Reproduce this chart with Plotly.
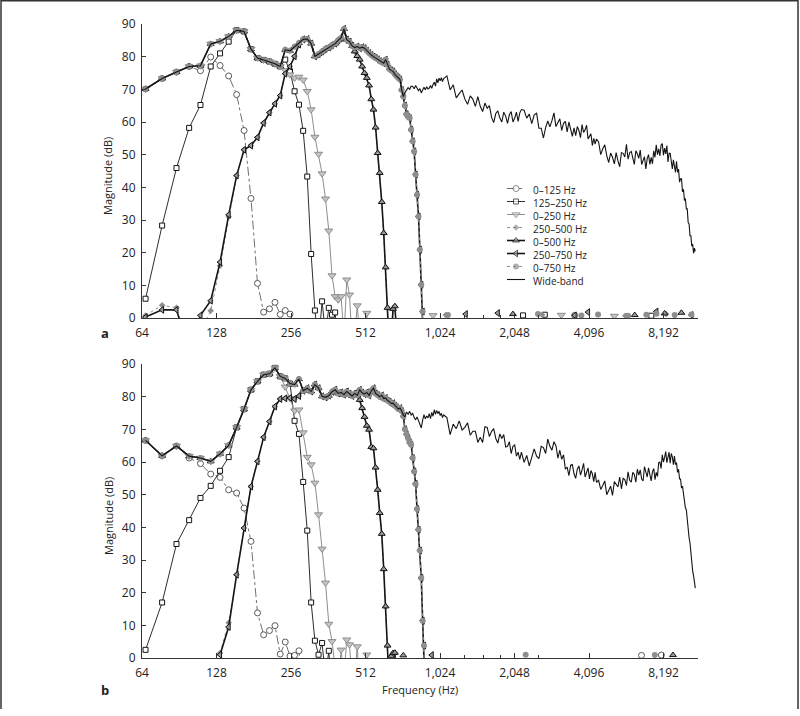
import math
import plotly.graph_objects as go

BIN_HZ = 11.025  # FFT bin spacing of the spectra

bins_lo = list(range(6, 97))
bins_hi = list(range(99, 199, 3)) + list(range(203, 399, 5)) + list(range(406, 999, 8))

# ---- wide-band spectrum, panel a ----
wide_a_lo = [70.1, 73.3, 75.3, 77.0, 77.2, 83.9, 84.7, 86.2, 88.1, 87.7,
             82.3, 79.6, 79.0, 78.5, 77.8, 77.0, 82.1, 81.8, 83.0, 84.2,
             85.3, 85.4, 84.0, 80.1, 80.8, 81.6, 82.4, 82.8, 83.6, 84.0,
             85.0, 85.8, 88.5, 85.2, 84.6, 83.3, 82.8, 83.1, 82.6, 82.9,
             82.6, 81.8, 81.1, 80.5, 80.0, 79.6, 79.2, 78.6, 78.3, 78.0,
             79.1, 77.5, 76.2, 75.8, 75.5, 74.6, 74.0, 73.5, 73.0, 69.8,
             67.8, 69.0, 69.9, 70.5, 70.0, 71.0, 70.9, 70.2, 71.2, 70.4,
             69.6, 70.2, 68.9, 69.8, 70.6, 69.9, 70.8, 70.1, 70.4, 71.2,
             70.3, 71.5, 72.2, 71.0, 73.2, 72.0, 73.4, 72.6, 73.6, 72.4,
             73.3]
wide_a_hi = [74.1, 69.8, 71.4, 67.4, 68.7, 69.8, 67.0, 65.4, 68.0, 67.0,
             64.8, 67.8, 64.8, 63.2, 65.8, 64.2, 65.0, 61.4, 59.8, 62.6,
             63.4, 61.2, 60.0, 63.0, 61.8, 59.6, 62.2, 63.2, 60.0, 61.2,
             63.0, 60.2, 62.8, 63.8,
             63.6, 61.2, 62.4, 59.5, 62.2, 62.7, 58.1, 58.1, 55.1, 58.3,
             60.3, 58.5, 60.4, 62.8, 58.6, 59.6, 61.0, 57.4, 59.6, 60.2,
             57.0, 60.0, 57.4, 55.6, 58.2, 55.8, 58.6, 57.4, 55.2, 59.2,
             56.8, 57.6, 59.0, 54.8, 55.6, 56.4, 52.8, 55.0, 53.2, 54.8,
             53.9, 50.0, 51.8, 53.0, 49.7, 47.6, 50.5, 49.2, 47.2, 50.6,
             48.1, 46.3, 50.6, 50.4, 49.3, 53.2, 48.6, 50.6, 51.0, 48.5,
             47.0, 51.2, 50.3, 48.9, 51.4, 47.0, 48.2, 49.4, 45.6, 48.8,
             50.0, 47.0, 49.2, 47.2, 51.2, 49.2, 53.0, 50.0, 51.8, 49.6,
             53.0, 53.4, 49.8, 52.0, 50.2, 52.8, 47.8, 50.4, 50.4, 47.8,
             45.6, 48.4, 46.6, 44.6, 48.0, 44.6, 45.6, 41.6, 42.6, 42.6,
             38.6, 39.4, 36.0, 36.6, 33.4, 33.4, 29.2, 28.8, 25.2, 25.2,
             22.0, 22.6, 19.8, 21.4, 20.4]

# ---- wide-band spectrum, panel b ----
wide_b_lo = [66.6, 61.9, 64.9, 61.8, 61.2, 60.2, 62.5, 65.1, 70.6, 76.2,
             82.1, 84.7, 86.7, 87.0, 88.8, 86.2, 85.6, 84.0, 83.7, 85.4,
             81.8, 82.6, 81.6, 83.7, 82.6, 80.1, 79.8, 80.3, 81.5, 82.1,
             81.0, 81.3, 80.6, 81.6, 80.9, 80.2, 81.0, 80.4, 82.1, 81.2,
             80.8, 81.3, 80.4, 81.8, 82.6, 81.0, 80.5, 80.0, 80.4, 79.4,
             79.6, 78.8, 78.5, 77.9, 78.0, 77.2, 76.8, 76.2, 76.5, 75.6,
             74.3, 73.9, 75.3, 74.6, 75.5, 74.4, 74.9, 73.6, 72.9, 73.8,
             72.5, 71.6, 70.4, 72.8, 74.5, 73.2, 74.1, 73.5, 74.8, 73.3,
             75.2, 74.0, 76.0, 74.6, 75.8, 74.8, 75.5, 74.2, 74.9, 73.6,
             74.4]
wide_b_hi = [73.6, 68.4, 71.6, 70.2, 72.6, 69.8, 70.6, 72.0, 68.2, 69.4,
             69.4, 66.0, 67.6, 66.0, 70.8, 70.6, 67.8, 69.4, 70.2, 67.2,
             65.8, 68.6, 67.2, 68.4, 64.6, 64.8, 66.2, 62.6, 64.8, 65.2,
             61.8, 63.0, 60.8, 63.0,
             59.9, 62.0, 58.8, 61.4, 64.0, 61.8, 61.0, 64.8, 64.4, 62.6,
             67.0, 64.8, 63.6, 66.2, 65.0, 61.2, 63.6, 60.8, 62.2, 57.8,
             58.4, 55.8, 59.0, 59.2, 56.4, 55.0, 57.8, 58.8, 56.0, 57.6,
             59.6, 55.4, 56.8, 58.2, 54.8, 57.4, 56.4, 54.0, 56.8, 53.8,
             54.4, 51.6, 52.8, 54.2, 50.0, 51.2, 52.6, 49.8, 54.0, 53.2,
             52.4, 55.4, 51.8, 55.0, 54.6, 52.8, 57.0, 54.4, 53.8, 56.8,
             56.2, 53.8, 57.8, 56.0, 57.6, 54.8, 54.2, 58.6, 57.0, 55.4,
             58.2, 55.8, 54.2, 57.0, 58.0, 54.6, 56.8, 55.6, 59.8, 60.0,
             58.0, 62.2, 60.0, 61.4, 63.2, 59.8, 61.4, 63.0, 59.6, 62.6,
             61.6, 59.2, 61.8, 59.2, 59.8, 56.8, 57.8, 54.8, 54.8, 52.0,
             52.6, 50.0, 49.4, 46.0, 45.4, 41.8, 40.8, 36.8, 35.2, 31.4,
             30.0, 26.6, 25.2, 22.4, 21.4]

# ---- filtered spectra, panel a ----
# left / right: (bins, dB) outside the pass band; pass_: bin range that follows the wide-band
a_lp750_right = (list(range(66, 81)), [67.8, 65.0, 62.4, 61.6, 61.2, 57.6, 54.1, 51.0, 43.9,
                                       37.7, 31.1, 20.9, 10.2, 2.0, -12])
a_lp500_right = (list(range(42, 64)), [81.6, 80.2, 79.1, 77.0, 75.0, 73.5, 71.2, 67.0, 63.8,
                                       58.3, 50.5, 44.4, 35.5, 26.0, 15.5, 3.1, -10, -6, 2.8,
                                       3.6, -8, -12])
panel_a = {
    "0–125 Hz": dict(pass_=(6, 9),
                     right=(list(range(10, 25)), [75.7, 79.9, 77.3, 74.1, 68.4, 57.4, 36.6, 10.6,
                                                  1.8, 2.8, 4.8, 1.1, 2.3, 1.2, -12]),
                     spots=([325], [0.8])),
    "125–250 Hz": dict(left=(list(range(6, 14)), [5.9, 28.3, 45.9, 58.2, 65.2, 77.0, 81.0, 84.6]),
                       pass_=(14, 21),
                       right=(list(range(22, 37)), [79.1, 75.5, 69.4, 65.3, 57.3, 43.3, 19.6, 2.3,
                                                    -8, 5.1, -5, 3.1, 1.0, 1.7, -12]),
                       spots=([201, 246, 663], [0.8, 1.0, 0.7])),
    "0–250 Hz": dict(pass_=(6, 21),
                     right=(list(range(22, 49)), [75.8, 74.5, 73.5, 73.8, 72.9, 69.4, 63.8, 55.4,
                                                  50.2, 44.2, 36.5, 26.7, 13.0, 6.6, 5.6, 6.6, -6,
                                                  11.7, 7.1, -8, -5, 3.8, -6, -10, -4, 1.5, -12]),
                     spots=([87, 287, 470], [0.8, 0.9, 0.6])),
    "250–500 Hz": dict(left=(list(range(6, 26)), [0.8, 3.9, 3.1, -10, -4, 2.2, 16.0, 31.0, 43.6,
                                                  51.5, 52.8, 55.3, 59.7, 62.9, 65.6, 68.1, 74.8,
                                                  77.0, 80.1, 83.7]),
                       pass_=(26, 41), right=a_lp500_right,
                       spots=([98, 240, 520, 760], [0.9, 1.0, 0.7, 1.2])),
    "0–500 Hz": dict(pass_=(6, 41), right=a_lp500_right,
                     spots=([183, 568, 750, 877], [1.2, 0.9, 1.4, 1.6])),
    "250–750 Hz": dict(left=(list(range(6, 26)), [0.3, 2.5, 2.5, -10, 0.8, 5.3, 17.1, 31.6, 43.6,
                                                  51.5, 52.8, 55.3, 59.7, 62.9, 65.6, 68.1, 74.8,
                                                  77.0, 80.1, 83.7]),
                       pass_=(26, 65), right=a_lp750_right,
                       spots=([118, 159, 325, 368, 695, 963], [1.2, 1.5, 0.8, 1.8, 2.0, 0.9])),
    "0–750 Hz": dict(pass_=(6, 65), right=a_lp750_right,
                     spots=([100, 231, 346, 404, 534, 633, 695, 824, 963],
                            [0.9, 1.2, 0.8, 1.1, 0.7, 1.0, 1.3, 0.9, 1.1])),
}

# ---- filtered spectra, panel b ----
b_lp750_right = (list(range(66, 82)), [74.0, 70.0, 68.5, 67.3, 66.0, 65.3, 61.2, 57.1, 53.3,
                                       45.6, 39.3, 32.9, 24.5, 11.4, 3.8, -12])
b_lp500_right = (list(range(44, 63)), [79.0, 76.5, 73.8, 71.1, 69.9, 64.6, 64.2, 58.3, 51.5,
                                       44.4, 38.0, 27.2, 15.8, 3.8, -10, 0.5, 1.5, 1.6, -12])
b_hp250_left = [1.0, 9.5, 25.5, 39.8, 52.5, 60.2, 67.6, 72.4, 77.0, 79.3, 79.5, 79.6, 79.3, 80.2]
panel_b = {
    "0–125 Hz": dict(pass_=(6, 8),
                     right=(list(range(9, 27)), [61.2, 59.5, 56.3, 55.3, 51.5, 50.5, 45.9, 35.7,
                                                 13.8, 7.1, 8.4, 9.9, 1.2, 4.9, 0.6, 0.8, 2.2, -12]),
                     spots=([605, 728], [0.8, 0.9])),
    "125–250 Hz": dict(left=(list(range(6, 14)), [2.5, 17.0, 34.9, 42.2, 49.0, 52.7, 57.3, 61.5]),
                       pass_=(14, 23),
                       right=(list(range(24, 35)), [72.6, 68.6, 53.9, 39.0, 17.0, 5.3, 1.0, 4.6,
                                                    -6, 2.2, -12])),
    "0–250 Hz": dict(pass_=(6, 21),
                     right=(list(range(22, 49)), [83.0, 79.5, 75.7, 76.0, 69.0, 61.5, 59.2, 53.6,
                                                  43.9, 33.4, 23.0, 10.4, 5.1, -3, -8, 2.5, -6,
                                                  5.6, 4.1, -8, -6, 3.5, -10, -8, -5, 1.0, -12])),
    "250–500 Hz": dict(left=(list(range(12, 26)), [1.5, 10.8] + b_hp250_left[2:]),
                       pass_=(26, 43), right=b_lp500_right),
    "0–500 Hz": dict(pass_=(6, 43), right=b_lp500_right,
                     spots=([66, 811], [0.8, 0.9])),
    "250–750 Hz": dict(left=(list(range(12, 26)), b_hp250_left),
                       pass_=(26, 65), right=b_lp750_right,
                       spots=([86], [0.9])),
    "0–750 Hz": dict(pass_=(6, 65), right=b_lp750_right,
                     spots=([206, 685], [1.0, 0.9])),
}

tick_vals = [64, 128, 256, 512, 1024, 2048, 4096, 8192]
tick_text = ["64", "128", "256", "512", "1,024", "2,048", "4,096", "8,192"]
minor_vals = [1280, 1536, 1792, 2560]

BLACK = "#151515"
GRAY = "#8e8e8e"
styles = {
    "0–125 Hz": dict(line=dict(color="#4a4a4a", width=0.8, dash="dashdot"),
                     marker=dict(symbol="circle", size=6, color="white",
                                 line=dict(color="#4a4a4a", width=0.9))),
    "125–250 Hz": dict(line=dict(color=BLACK, width=0.9),
                       marker=dict(symbol="square", size=5, color="white",
                                   line=dict(color=BLACK, width=1))),
    "0–250 Hz": dict(line=dict(color=GRAY, width=1),
                     marker=dict(symbol="triangle-down", size=7, color="#c4c4c4",
                                 line=dict(color=GRAY, width=1))),
    "250–500 Hz": dict(line=dict(color=GRAY, width=1, dash="dot"),
                       marker=dict(symbol="diamond", size=5, color=GRAY,
                                   line=dict(color=GRAY, width=0))),
    "0–500 Hz": dict(line=dict(color=BLACK, width=1.6),
                     marker=dict(symbol="triangle-up", size=6, color="#9a9a9a",
                                 line=dict(color=BLACK, width=1))),
    "250–750 Hz": dict(line=dict(color=BLACK, width=1.6),
                       marker=dict(symbol="triangle-left", size=6, color="#9a9a9a",
                                   line=dict(color=BLACK, width=1))),
    "0–750 Hz": dict(line=dict(color=GRAY, width=1, dash="dot"),
                     marker=dict(symbol="circle", size=6, color=GRAY,
                                 line=dict(color=GRAY, width=0))),
}
WIDE_LINE = dict(color=BLACK, width=1.1)


def build(wide_lo, left=None, pass_=None, right=None, spots=None):
    xs, ys = [], []
    if left:
        xs += left[0]
        ys += left[1]
    if pass_:
        b0, b1 = pass_
        xs += list(range(b0, b1 + 1))
        ys += wide_lo[b0 - bins_lo[0]:b1 - bins_lo[0] + 1]
    if right:
        xs += right[0]
        ys += right[1]
    if spots:
        for b, v in zip(*spots):
            xs += [None, b]
            ys += [None, v]
    return [None if b is None else b * BIN_HZ for b in xs], ys


fig = go.Figure()
for panel, wide_lo, wide_hi, xa, ya in [(panel_a, wide_a_lo, wide_a_hi, "x", "y"),
                                         (panel_b, wide_b_lo, wide_b_hi, "x2", "y2")]:
    for name, spec in panel.items():
        fx, fy = build(wide_lo, **spec)
        fig.add_trace(go.Scatter(x=fx, y=fy, mode="lines+markers", name=name,
                                 xaxis=xa, yaxis=ya, showlegend=False,
                                 **styles[name]))
    fig.add_trace(go.Scatter(x=[b * BIN_HZ for b in bins_lo + bins_hi], y=wide_lo + wide_hi,
                             mode="lines", name="Wide-band", line=WIDE_LINE,
                             xaxis=xa, yaxis=ya, showlegend=False))

# ---- hand-drawn legend (plotly legend rows are too tall) ----
L_PLOT, R_PLOT, T_PLOT, B_PLOT = 142, 698, 24, 658
LEG_FONT = 10
LEG_STEP = LEG_FONT * 1.3          # line spacing of a multi-line annotation
LEG_TOP = 188.5
legend_names = list(styles) + ["Wide-band"]
for i, name in enumerate(legend_names):
    yr = LEG_TOP + i * LEG_STEP
    if name in styles:
        st = styles[name]
        fig.add_trace(go.Scatter(x=[507, 516, 525], y=[yr, yr, yr], mode="lines+markers",
                                 line=st["line"],
                                 marker=dict(st["marker"], size=[0, st["marker"]["size"], 0]),
                                 xaxis="x3", yaxis="y3", showlegend=False, hoverinfo="skip"))
    else:
        fig.add_trace(go.Scatter(x=[507, 525], y=[yr, yr], mode="lines", line=WIDE_LINE,
                                 xaxis="x3", yaxis="y3", showlegend=False, hoverinfo="skip"))


def px(x, y):
    return (x - L_PLOT) / (R_PLOT - L_PLOT), (B_PLOT - y) / (B_PLOT - T_PLOT)


annotations = []
lx, ly = px(532, LEG_TOP - LEG_STEP / 2)
annotations.append(dict(x=lx, y=ly, xref="paper", yref="paper", text="<br>".join(legend_names),
                        showarrow=False, align="left", xanchor="left", yanchor="top",
                        borderpad=0, font=dict(size=LEG_FONT, color="#222")))
for txt, (x, y), ang, fs in [("<b>a</b>", (105, 333), 0, 13), ("<b>b</b>", (105, 690), 0, 13),
                             ("Magnitude (dB)", (108, 176), -90, 11),
                             ("Magnitude (dB)", (108, 516), -90, 11),
                             ("Frequency (Hz)", (420, 690), 0, 11)]:
    ax, ay = px(x, y)
    annotations.append(dict(x=ax, y=ay, xref="paper", yref="paper", text=txt, showarrow=False,
                            textangle=ang, xanchor="center", yanchor="middle",
                            font=dict(size=fs, color="#222")))

fx0, fy0 = px(1, 709)
fx1, fy1 = px(798, 0.7)
frame = dict(type="path", xref="paper", yref="paper",
             path=f"M {fx0},{fy0} L {fx0},{fy1} L {fx1},{fy1} L {fx1},{fy0}",
             line=dict(color="#333", width=1.5))

xaxis_common = dict(type="log", range=[math.log10(64), math.log10(11283)],
                    tickmode="array", tickvals=tick_vals, ticktext=tick_text,
                    ticks="inside", ticklen=5, tickwidth=1, tickcolor="#333",
                    showline=True, linecolor="#333", linewidth=1,
                    showgrid=False, zeroline=False, ticklabelstandoff=4,
                    tickfont=dict(size=12, color="#222"),
                    minor=dict(tickmode="array", tickvals=minor_vals, ticks="inside",
                               ticklen=3, tickcolor="#333", showgrid=False))
yaxis_common = dict(range=[0, 90], tickmode="array", tickvals=list(range(0, 91, 10)),
                    ticks="inside", ticklen=4, tickwidth=1, tickcolor="#333",
                    showline=True, linecolor="#333", linewidth=1,
                    showgrid=False, zeroline=False, ticklabelstandoff=3,
                    tickfont=dict(size=12, color="#222"))

gap_lo = (B_PLOT - 364) / (B_PLOT - T_PLOT)
gap_hi = (B_PLOT - 318) / (B_PLOT - T_PLOT)
fig.update_layout(
    width=800, height=716,
    margin=dict(l=L_PLOT, r=800 - R_PLOT, t=T_PLOT, b=716 - B_PLOT),
    paper_bgcolor="white", plot_bgcolor="rgba(0,0,0,0)",
    font=dict(family="Open Sans", color="#222"),
    showlegend=False,
    xaxis=dict(xaxis_common, domain=[0, 1], anchor="y"),
    yaxis=dict(yaxis_common, domain=[gap_hi, 1], anchor="x"),
    xaxis2=dict(xaxis_common, domain=[0, 1], anchor="y2"),
    yaxis2=dict(yaxis_common, domain=[0, gap_lo], anchor="x2"),
    xaxis3=dict(domain=[0, 1], range=[L_PLOT, R_PLOT], visible=False, anchor="y3"),
    yaxis3=dict(domain=[0, 1], range=[B_PLOT, T_PLOT], visible=False, anchor="x3"),
    annotations=annotations,
    shapes=[frame],
)

# page body has a default 8px margin; drop it so the figure sits at the window corner
fig.write_html("out.html", config={"displayModeBar": False},
               post_script="document.body.style.margin='0';")
